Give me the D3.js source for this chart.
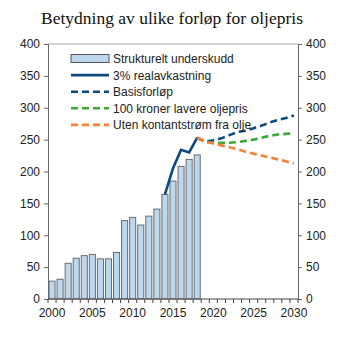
<!DOCTYPE html>
<html><head><meta charset="utf-8">
<script src="https://cdn.jsdelivr.net/npm/d3@7"></script>
<style>body{margin:0;background:#fff}svg{display:block}</style>
</head><body><svg id="c" width="345" height="345"></svg>
<script>
const title = "Betydning av ulike forløp for oljepris";
const years = d3.range(2000, 2031);
const barYears = d3.range(2000, 2019);
const deficit = [28,31,56,64,68,70,63,63,73,123,128,116,130,141,164,185,208,219,226];
const realYears = [2014,2015,2016,2017,2018];
const real3 = [164,205,234,230,253];
const projYears = d3.range(2018, 2031);
const basis = [253,247,249,252,257,262,264,268,272,277,281,284,288];
const lowOil = [253,246,245,245,245,246,248,250,253,256,258,259,260];
const noOil = [253,247,244,241,238,235,231,228,225,222,219,216,213];
const yTicks = [0,50,100,150,200,250,300,350,400];
const xLabels = [2000,2005,2010,2015,2020,2025,2030];
const legendItems = [
  {label:"Strukturelt underskudd", type:"bar"},
  {label:"3% realavkastning", type:"line", color:"#0d4a80", dash:null},
  {label:"Basisforløp", type:"line", color:"#0d4a80", dash:"7,4"},
  {label:"100 kroner lavere oljepris", type:"line", color:"#3aaa35", dash:"7,4"},
  {label:"Uten kontantstrøm fra olje", type:"line", color:"#f58233", dash:"7,4"}
];

const svg = d3.select("#c");
const L = 48, R = 298, T = 44, B = 299;
const x = d3.scaleBand().domain(years).range([L, R]).paddingInner(0.25).paddingOuter(0.125);
const xs = d3.scaleBand().domain(years).range([L, R]);
const y = d3.scaleLinear().domain([0, 400]).range([B, T]);
const font = "Liberation Sans, Arial, sans-serif";

svg.append("text").attr("x", 172).attr("y", 24).attr("text-anchor", "middle")
  .attr("font-family", "Liberation Serif, Times New Roman, serif").attr("font-size", 17.5)
  .attr("fill", "#111").text(title);

// top border
svg.append("line").attr("x1", L).attr("x2", R).attr("y1", T).attr("y2", T).attr("stroke", "#aaa").attr("stroke-width", 1);

// bars
svg.append("g").selectAll("rect").data(barYears.map((yr,i)=>({yr, v:deficit[i]}))).join("rect")
  .attr("x", d => x(d.yr)).attr("width", x.bandwidth())
  .attr("y", d => y(d.v)).attr("height", d => y(0) - y(d.v))
  .attr("fill", "#bdd7ee").attr("stroke", "#6b6b6b").attr("stroke-width", 1);

// axes
const yl = svg.append("g").attr("transform", `translate(${L},0)`)
  .call(d3.axisLeft(y).tickValues(yTicks).tickSize(4).tickPadding(4));
const yr = svg.append("g").attr("transform", `translate(${R},0)`)
  .call(d3.axisRight(y).tickValues(yTicks).tickSize(4).tickPadding(4));
[yl, yr].forEach(g => {
  g.select(".domain").attr("stroke", "#666");
  g.selectAll(".tick line").attr("stroke", "#666");
  g.selectAll("text").attr("font-family", font).attr("font-size", 12).attr("fill", "#222");
});

const xg = svg.append("g").attr("transform", `translate(0,${B})`);
xg.append("line").attr("x1", L).attr("x2", R).attr("stroke", "#444");
xg.selectAll(".tk").data(years.concat([2031])).join("line")
  .attr("x1", d => d === 2031 ? R : xs(d)).attr("x2", d => d === 2031 ? R : xs(d))
  .attr("y1", 0).attr("y2", 4).attr("stroke", "#444");
xg.selectAll("text").data(xLabels).join("text")
  .attr("x", d => xs(d) + xs.bandwidth()/2).attr("y", 17.5).attr("text-anchor", "middle")
  .attr("font-family", font).attr("font-size", 12).attr("fill", "#222").text(d => d);

// lines
const line = d3.line().x(d => xs(d[0]) + xs.bandwidth()/2).y(d => y(d[1]));
function drawLine(yrs, vals, color, dash) {
  svg.append("path").datum(yrs.map((yy,i)=>[yy, vals[i]]))
    .attr("d", line).attr("fill", "none").attr("stroke", color).attr("stroke-width", 2.6)
    .attr("stroke-dasharray", dash);
}
drawLine(realYears, real3, "#0d4a80", null);
drawLine(projYears, basis, "#0d4a80", "7,4");
drawLine(projYears, lowOil, "#3aaa35", "7,4");
drawLine(projYears, noOil, "#f58233", "7,4");

// legend
const lg = svg.append("g");
legendItems.forEach((it, i) => {
  const cy = 58.5 + i * 16.6;
  if (it.type === "bar") {
    lg.append("rect").attr("x", 71).attr("y", cy - 4).attr("width", 38).attr("height", 8)
      .attr("fill", "#bdd7ee").attr("stroke", "#555").attr("stroke-width", 1);
  } else {
    lg.append("line").attr("x1", 71).attr("x2", 109).attr("y1", cy).attr("y2", cy)
      .attr("stroke", it.color).attr("stroke-width", 2.6).attr("stroke-dasharray", it.dash);
  }
  lg.append("text").attr("x", 113).attr("y", cy + 4.5).attr("font-family", font)
    .attr("font-size", 12).attr("fill", "#222").text(it.label);
});
</script></body></html>
